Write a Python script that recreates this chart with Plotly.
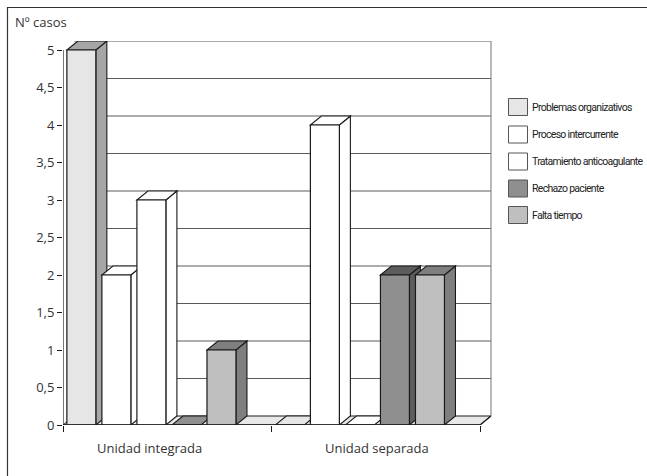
import plotly.graph_objects as go

# ---- data -------------------------------------------------------------
categories = ["Unidad integrada", "Unidad separada"]
series_names = [
    "Problemas organizativos",
    "Proceso intercurrente",
    "Tratamiento anticoagulante",
    "Rechazo paciente",
    "Falta tiempo",
]
problemas_organizativos = [5, 0]
proceso_intercurrente = [2, 4]
tratamiento_anticoagulante = [3, 0]
rechazo_paciente = [0, 2]
falta_tiempo = [1, 2]
y_tick_values = [0, 0.5, 1, 1.5, 2, 2.5, 3, 3.5, 4, 4.5, 5]
y_axis_title = "Nº casos"

series_values = [
    problemas_organizativos,
    proceso_intercurrente,
    tratamiento_anticoagulante,
    rechazo_paciente,
    falta_tiempo,
]

# ---- styling ----------------------------------------------------------
front_colors = ["#e6e6e6", "#ffffff", "#ffffff", "#8f8f8f", "#bfbfbf"]
shade_colors = ["#a6a6a6", "#ffffff", "#ffffff", "#5c5c5c", "#7f7f7f"]
EDGE = "#1a1a1a"
FLOOR = "#e8e8e8"
GRID = "#5a5a5a"

# pseudo-3D geometry (x in category units, y in value units)
OFFSET = 0.088   # centre of first bar from category start
SLOT = 0.168     # distance between bar centres
WIDTH = 0.139    # front face width
DX = 0.0528      # depth shift to the right
DY = 0.12        # depth shift upwards

W, H = 647, 476
ML, MR, MT, MB = 63, 155, 41, 51
PW, PH = W - ML - MR, H - MT - MB
X_MAX = PW / 208.5
Y_MAX = 5.12


def px(xp):
    return (xp - ML) / PW


def py(yp):
    return (H - MB - yp) / PH


fig = go.Figure()
shapes = []

# floor and back wall
ncat = len(categories)
shapes.append(dict(type="path", xref="x", yref="y", layer="below",
                   path=f"M0,0 L{ncat},0 L{ncat + DX},{DY} L{DX},{DY} Z",
                   fillcolor=FLOOR, line=dict(color=EDGE, width=1)))
for v in y_tick_values[1:]:
    shapes.append(dict(type="line", xref="x", yref="y", layer="below",
                       x0=DX, x1=ncat + DX, y0=v + DY, y1=v + DY,
                       line=dict(color=GRID, width=1)))
shapes.append(dict(type="line", xref="x", yref="y", layer="below",
                   x0=ncat + DX, x1=ncat + DX, y0=DY, y1=y_tick_values[-1] + DY,
                   line=dict(color="#8a8a8a", width=1.2)))

# side and top faces, left to right
for i in range(ncat):
    for j, vals in enumerate(series_values):
        v = vals[i]
        c = i + OFFSET + j * SLOT
        L, R = c - WIDTH / 2, c + WIDTH / 2
        if v > 0:
            shapes.append(dict(type="path", xref="x", yref="y", layer="between",
                               path=f"M{R},0 L{R},{v} L{R + DX},{v + DY} L{R + DX},{DY} Z",
                               fillcolor=shade_colors[j], line=dict(color=EDGE, width=1.1)))
        top_fill = shade_colors[j] if v > 0 else front_colors[j]
        shapes.append(dict(type="path", xref="x", yref="y", layer="between",
                           path=f"M{L},{v} L{R},{v} L{R + DX},{v + DY} L{L + DX},{v + DY} Z",
                           fillcolor=top_fill, line=dict(color=EDGE, width=1.1)))

# front faces
for j, (name, vals) in enumerate(zip(series_names, series_values)):
    fig.add_trace(go.Bar(
        name=name,
        x=[i + OFFSET + j * SLOT for i in range(ncat)],
        y=vals,
        width=WIDTH,
        marker=dict(color=front_colors[j], line=dict(color=EDGE, width=1.2)),
        showlegend=False,
    ))

# front axes lines
shapes.append(dict(type="line", xref="x", yref="y", layer="above",
                   x0=0, x1=0, y0=0, y1=y_tick_values[-1],
                   line=dict(color=EDGE, width=1.2)))
shapes.append(dict(type="line", xref="x", yref="y", layer="above",
                   x0=0, x1=ncat, y0=0, y1=0,
                   line=dict(color=EDGE, width=1.5)))
shapes.append(dict(type="line", xref="x", yref="y", layer="above",
                   x0=ncat, x1=ncat + DX, y0=0, y1=DY,
                   line=dict(color=EDGE, width=1.2)))

# outer frame (top and left)
shapes.append(dict(type="line", xref="paper", yref="paper",
                   x0=px(7), x1=px(647), y0=py(7.5), y1=py(7.5),
                   line=dict(color="#333333", width=1.2)))
shapes.append(dict(type="line", xref="paper", yref="paper",
                   x0=px(7.5), x1=px(7.5), y0=py(7), y1=py(476),
                   line=dict(color="#333333", width=1.2)))

annotations = []
# legend (condensed look via tighter letter spacing)
legend_rows = [107, 134.5, 161.5, 188.5, 215]
for name, col, yr in zip(series_names, front_colors, legend_rows):
    shapes.append(dict(type="rect", xref="paper", yref="paper",
                       x0=px(508.5), x1=px(527.5), y0=py(yr + 8.5), y1=py(yr - 8.5),
                       fillcolor=col, line=dict(color="#555555", width=1)))
    annotations.append(dict(xref="paper", yref="paper", x=px(530), y=py(yr),
                            xanchor="left", yanchor="middle", showarrow=False,
                            text=f'<span style="letter-spacing:-0.7px">{name}</span>',
                            font=dict(family="Roboto", size=10.5, color="#222222")))

# category labels and axis title
for xc, label in zip([0.417, 1.506], categories):
    annotations.append(dict(xref="x", yref="paper", x=xc, y=py(448),
                            xanchor="center", yanchor="middle", showarrow=False,
                            text=label, font=dict(size=13, color="#333333")))
annotations.append(dict(xref="paper", yref="paper", x=px(13), y=py(22),
                        xanchor="left", yanchor="middle", showarrow=False,
                        text=y_axis_title, font=dict(size=13, color="#333333")))

fig.update_layout(
    width=W, height=H,
    margin=dict(l=ML, r=MR, t=MT, b=MB, pad=0),
    paper_bgcolor="white", plot_bgcolor="white",
    barmode="overlay",
    separators=",.",
    font=dict(family="Open Sans", size=13, color="#333333"),
    shapes=shapes,
    annotations=annotations,
    showlegend=False,
    xaxis=dict(range=[0, X_MAX], showgrid=False, zeroline=False, showline=False,
               tickmode="array", tickvals=list(range(ncat + 1)),
               ticktext=[""] * (ncat + 1), ticks="outside", ticklen=6,
               tickcolor=EDGE, tickwidth=1.2, automargin=False, fixedrange=True),
    yaxis=dict(range=[0, Y_MAX], showgrid=False, zeroline=False, showline=False,
               tickmode="array", tickvals=y_tick_values,
               ticks="outside", ticklen=5, tickcolor=EDGE, tickwidth=1.2,
               tickfont=dict(size=13, color="#333333"),
               automargin=False, fixedrange=True),
)

fig.write_html("out.html")
